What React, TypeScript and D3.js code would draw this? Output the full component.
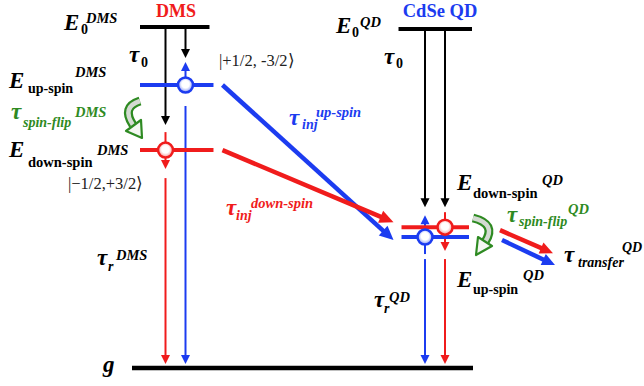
import React from "react";
import * as d3 from "d3";

// two systems side by side
const systems = ["DMS", "CdSe QD"];
// level energies in arbitrary units, ground state g = 0
const groundEnergy = 0;
const topEnergy = [100, 99.4];
const upSpinEnergy = [83.0, 38.4];
const downSpinEnergy = [63.9, 41.3];
// left-to-right order of the spin channels in each system
const channelOrder = [
  ["down-spin", "up-spin"],
  ["up-spin", "down-spin"],
];
const kets = ["|+1/2, -3/2\u27E9", "|\u22121/2,+3/2\u27E9"];

const RED = "#f01c1c";
const BLUE = "#1c3cf0";
const GREEN = "#2e8a22";
const FONT = "Liberation Serif, Times New Roman, serif";

const spinColor = (s: string) => (s === "up-spin" ? BLUE : RED);

function Arrow({ x1, y1, x2, y2, color, w = 2, head = 9, hw = 9 }: any) {
  const dx = x2 - x1, dy = y2 - y1;
  const L = Math.hypot(dx, dy);
  const ux = dx / L, uy = dy / L;
  const bx = x2 - ux * head, by = y2 - uy * head;
  const px = -uy, py = ux;
  return (
    <g>
      <line x1={x1} y1={y1} x2={bx + ux} y2={by + uy} stroke={color} strokeWidth={w} />
      <polygon
        points={`${x2},${y2} ${bx + (px * hw) / 2},${by + (py * hw) / 2} ${bx - (px * hw) / 2},${by - (py * hw) / 2}`}
        fill={color}
      />
    </g>
  );
}

// text pieces: [text, x, y, size, italic]
function Label({ parts, color = "#000" }: any) {
  return (
    <g fill={color} fontFamily={FONT} fontWeight="bold">
      {parts.map((p: any, i: number) => (
        <text key={i} x={p[1]} y={p[2]} fontSize={p[3]} fontStyle={p[4] ? "italic" : "normal"}>
          {p[0]}
        </text>
      ))}
    </g>
  );
}

export default function App() {
  const W = 644, H = 386;
  const y = d3.scaleLinear().domain([0, 100]).range([368, 27]);
  const x = d3.scaleBand().domain(systems).range([139, 473]).paddingInner(0.713).paddingOuter(0);
  const ch = d3.scalePoint().domain(["0", "1"]).range([26.5, 46.5]);
  const bw = x.bandwidth();
  const gy = y(groundEnergy);

  const chX = (si: number, spin: string) =>
    (x(systems[si]) as number) + (ch(String(channelOrder[si].indexOf(spin))) as number);
  const lvY = (si: number, spin: string) =>
    y(spin === "up-spin" ? upSpinEnergy[si] : downSpinEnergy[si]);

  const marks: any[] = [];

  // top and ground levels
  systems.forEach((s, si) => {
    const x0 = x(s) as number;
    marks.push(<line key={"top" + si} x1={x0 + (si ? 0 : 1)} x2={x0 + bw - (si ? 1 : 4)} y1={y(topEnergy[si])} y2={y(topEnergy[si])} stroke="#000" strokeWidth={4} />);
  });
  marks.push(<line key="g" x1={132} x2={473} y1={gy} y2={gy} stroke="#000" strokeWidth={4.5} />);

  // DMS vertical transitions
  {
    const si = 0;
    const ty = y(topEnergy[si]);
    const xu = chX(si, "up-spin"), yu = lvY(si, "up-spin");
    const xd = chX(si, "down-spin"), yd = lvY(si, "down-spin");
    marks.push(<Arrow key="d1" x1={xu} y1={ty} x2={xu} y2={yu - 27} color="#000" />);
    marks.push(<Arrow key="d2" x1={xu} y1={yu} x2={xu} y2={yu - 23} color={BLUE} />);
    marks.push(<Arrow key="d3" x1={xu} y1={yu + 21} x2={xu} y2={gy - 4} color={BLUE} />);
    marks.push(<Arrow key="d4" x1={xd} y1={ty} x2={xd} y2={yd - 25} color="#000" />);
    marks.push(<line key="d5" x1={xd} x2={xd} y1={yd - 18} y2={yd} stroke={RED} strokeWidth={2} />);
    marks.push(<Arrow key="d6" x1={xd} y1={yd} x2={xd} y2={yd + 19} color={RED} />);
    marks.push(<Arrow key="d7" x1={xd} y1={yd + 28} x2={xd} y2={gy - 4} color={RED} />);
  }
  // QD vertical transitions
  {
    const si = 1;
    const ty = y(topEnergy[si]);
    const xu = chX(si, "up-spin"), yu = lvY(si, "up-spin");
    const xd = chX(si, "down-spin"), yd = lvY(si, "down-spin");
    marks.push(<Arrow key="q1" x1={xu} y1={ty} x2={xu} y2={yd - 20} color="#000" />);
    marks.push(<Arrow key="q2" x1={xd} y1={ty} x2={xd} y2={yd - 20} color="#000" />);
    marks.push(<Arrow key="q3" x1={xu} y1={yu} x2={xu} y2={yd - 12} color={BLUE} />);
    marks.push(<line key="q4" x1={xu} x2={xu} y1={yu} y2={yu + 17} stroke={BLUE} strokeWidth={2} />);
    marks.push(<Arrow key="q5" x1={xu} y1={yu + 22} x2={xu} y2={gy - 4} color={BLUE} />);
    marks.push(<line key="q6" x1={xd} x2={xd} y1={yd - 15} y2={yd} stroke={RED} strokeWidth={2} />);
    marks.push(<Arrow key="q7" x1={xd} y1={yd} x2={xd} y2={yu + 14} color={RED} />);
    marks.push(<Arrow key="q8" x1={xd} y1={yu + 22} x2={xd} y2={gy - 4} color={RED} />);
  }

  // spin sublevels with electrons
  const spinLevels: any[] = [];
  const dots: any[] = [];
  systems.forEach((s, si) => {
    const x0 = x(s) as number;
    ["up-spin", "down-spin"].forEach((spin) => {
      const ly = lvY(si, spin);
      const c = spinColor(spin);
      spinLevels.push(
        <line key={s + spin} x1={x0 + (si ? 3 : 1)} x2={x0 + bw - (si ? 4 : 0)} y1={ly} y2={ly} stroke={c} strokeWidth={4} />
      );
      dots.push(
        <circle key={"c" + s + spin} cx={chX(si, spin)} cy={ly} r={7.5} fill={`url(#grad-${spin})`} stroke={c} strokeWidth={2.5} />
      );
    });
  });

  // injection DMS -> QD
  const xr = (x(systems[0]) as number) + bw;
  const xq = x(systems[1]) as number;
  const inj = [
    <Arrow key="iu" x1={xr + 9} y1={lvY(0, "up-spin")} x2={xq - 5} y2={lvY(1, "up-spin") + 3} color={BLUE} w={4.5} head={14} hw={13} />,
    <Arrow key="id" x1={xr + 9} y1={lvY(0, "down-spin")} x2={xq - 5} y2={lvY(1, "down-spin") - 5} color={RED} w={4.5} head={14} hw={13} />,
  ];
  // transfer out of QD
  const xe = xq + bw;
  const transfer = [
    <Arrow key="tu" x1={xe + 29} y1={lvY(1, "up-spin") + 3} x2={xe + 82} y2={lvY(1, "up-spin") + 28} color={BLUE} w={4.5} head={13} hw={12} />,
    <Arrow key="td" x1={xe + 27} y1={lvY(1, "down-spin") + 3} x2={xe + 80} y2={lvY(1, "down-spin") + 26} color={RED} w={4.5} head={13} hw={12} />,
  ];

  const flip = (d: string, tip: string) => (
    <g>
      <path d={d} fill="none" stroke={GREEN} strokeWidth={9} />
      <path d={d} fill="none" stroke="#d4dad2" strokeWidth={4.5} />
      <polygon points={tip} fill="#f4f7f2" stroke={GREEN} strokeWidth={2.2} strokeLinejoin="round" />
    </g>
  );

  return (
    <div style={{ position: "absolute", left: 0, top: 0 }}>
      <svg width={W} height={H} style={{ display: "block", background: "#fff" }}>
        <defs>
          {["up-spin", "down-spin"].map((s) => (
            <radialGradient key={s} id={`grad-${s}`} cx="50%" cy="45%" r="55%">
              <stop offset="0%" stopColor="#fff" />
              <stop offset="45%" stopColor="#fff" />
              <stop offset="100%" stopColor={s === "up-spin" ? "#7f90f4" : "#f48a8a"} />
            </radialGradient>
          ))}
        </defs>
        {marks}
        {spinLevels}
        {dots}
        {inj}
        {transfer}
        {flip("M140,101 Q121,107 133,125", "142,138 126,131 141,120")}
        {flip("M473,218 Q497,224 485,242", "476,255 478,237 492,246")}

        {/* headers */}
        <text x={176} y={17} textAnchor="middle" fontFamily={FONT} fontWeight="bold" fontSize={18} fill={RED}>{systems[0]}</text>
        <text x={440} y={17} textAnchor="middle" fontFamily={FONT} fontWeight="bold" fontSize={18.5} fill={BLUE}>{systems[1]}</text>

        {/* DMS labels */}
        <Label parts={[["E", 64, 30, 23, 1], ["0", 81, 34, 14, 0], ["DMS", 86, 23, 14.5, 1]]} />
        <Label parts={[["\u03C4", 129, 62, 23, 1], ["0", 141, 67, 14, 0]]} />
        <Label parts={[["E", 9, 88, 23, 1], ["up-spin", 28, 93, 14, 0], ["DMS", 75, 77, 14.5, 1]]} />
        <Label color={GREEN} parts={[["\u03C4", 11, 119, 23, 1], ["spin-flip", 23, 127, 14, 1], ["DMS", 75, 117, 14.5, 1]]} />
        <Label parts={[["E", 9, 157, 23, 1], ["down-spin", 28, 167, 14.5, 0], ["DMS", 97, 155, 14.5, 1]]} />
        <Label parts={[["\u03C4", 97, 265, 23, 1], ["r", 108, 271, 14, 1], ["DMS", 116, 260, 14.5, 1]]} />
        <Label parts={[["g", 103, 372, 23, 1]]} />
        <text x={219} y={66} fontFamily={FONT} fontSize={16.5} fill="#222">{kets[0]}</text>
        <text x={68} y={189} fontFamily={FONT} fontSize={16.5} fill="#222">{kets[1]}</text>

        <Label color={BLUE} parts={[["\u03C4", 289, 125, 23, 1], ["inj", 302, 129, 14, 1], ["up-spin", 316, 117, 14.5, 1]]} />
        <Label color={RED} parts={[["\u03C4", 226, 215, 23, 1], ["inj", 236, 220, 14, 1], ["down-spin", 251, 208, 14.5, 1]]} />

        {/* QD labels */}
        <Label parts={[["E", 336, 33, 23, 1], ["0", 352, 37, 14, 0], ["QD", 360, 27, 14.5, 1]]} />
        <Label parts={[["\u03C4", 384, 64, 23, 1], ["0", 396, 68, 14, 0]]} />
        <Label parts={[["E", 457, 190, 23, 1], ["down-spin", 473, 198, 14.5, 0], ["QD", 542, 185, 14.5, 1]]} />
        <Label color={GREEN} parts={[["\u03C4", 507, 222, 23, 1], ["spin-flip", 519, 226, 14, 1], ["QD", 568, 214, 14.5, 1]]} />
        <Label parts={[["\u03C4", 564, 262, 23, 1], ["transfer", 578, 267, 14, 1], ["QD", 622, 252, 14, 1]]} />
        <Label parts={[["E", 457, 287, 23, 1], ["up-spin", 473, 294, 14, 0], ["QD", 523, 280, 14.5, 1]]} />
        <Label parts={[["\u03C4", 374, 307, 23, 1], ["r", 384, 313, 14, 1], ["QD", 389, 302, 14.5, 1]]} />
      </svg>
    </div>
  );
}
